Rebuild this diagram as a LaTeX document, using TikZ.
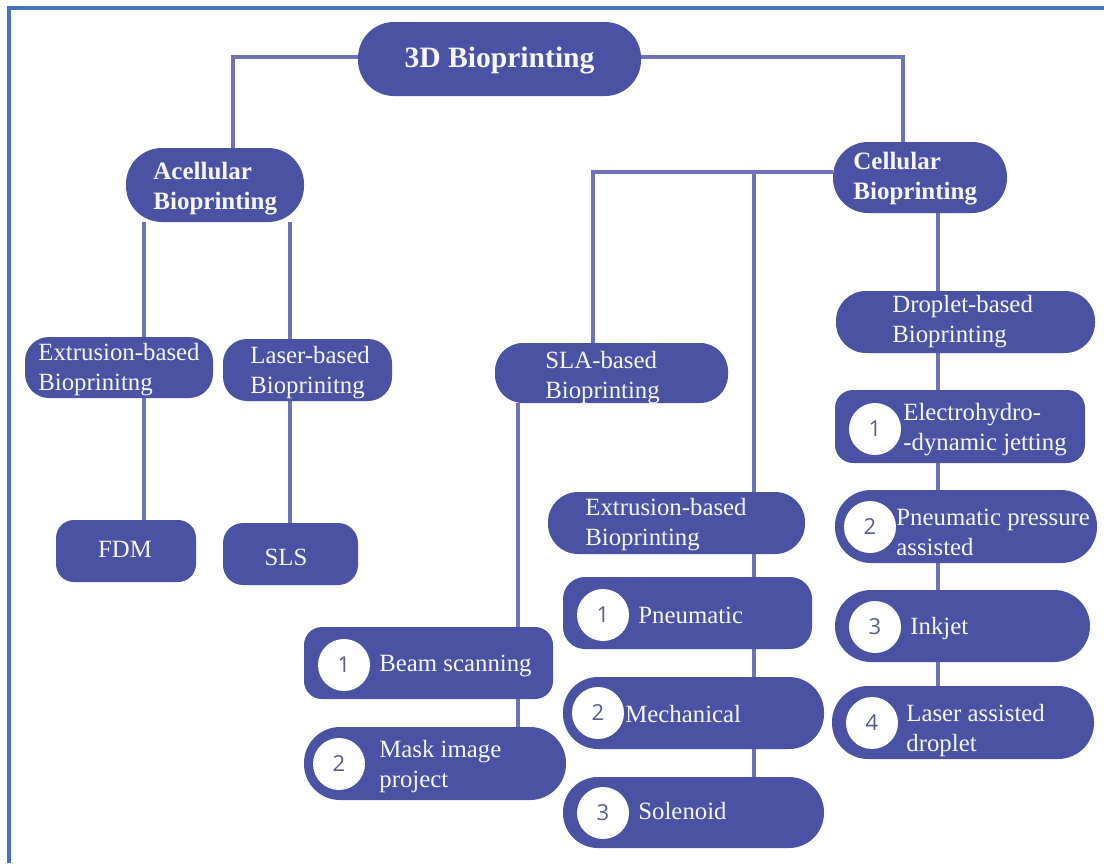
\documentclass[tikz,border=0pt]{standalone}
\usepackage{fontspec}
\setmainfont{Liberation Serif}
\newfontfamily\txtfont{Liberation Serif}
\newfontfamily\digitfont{Open Sans}
\usetikzlibrary{calc}
\definecolor{boxc}{RGB}{74,83,163}
\definecolor{connc}{RGB}{110,115,182}
\definecolor{bordc}{RGB}{68,114,196}
\definecolor{digc}{RGB}{90,94,140}
\definecolor{txtc}{RGB}{246,246,250}
\pgfdeclarelayer{bg}
\pgfsetlayers{bg,main}
\newcommand\mybox[6]{\node[box,rounded corners=#6pt,minimum width={(#4-#2)*0.5pt},minimum height={(#5-#3)*0.5pt}] (#1) at ({(#2+#4)/2},{(#3+#5)/2}) {};}
\begin{document}
\begin{tikzpicture}[x=0.5pt,y=-0.5pt,
  conn/.style={draw=connc,line width=2pt},
  box/.style={fill=boxc,inner sep=0pt,outer sep=0pt,draw=none},
  lbl/.style={text=txtc,inner sep=0pt,align=left,font=\txtfont\fontsize{12.4}{15}\selectfont},
  blbl/.style={text=txtc,inner sep=0pt,align=left,font=\txtfont\bfseries\fontsize{12.5}{15}\selectfont},
  num/.style={circle,fill=white,minimum size=26pt,inner sep=0pt,text=digc,font=\digitfont\fontsize{11}{13}\selectfont},
  border/.style={draw=bordc,line width=2pt}]
\useasboundingbox (0,0) rectangle (1104,863);
\draw[border] (9,863) -- (9,8) -- (1104,8);

% boxes
\mybox{top}{358}{22}{641}{96}{18}
\mybox{acell}{126}{148}{304}{222}{18}
\mybox{cell}{833}{142}{1007}{213}{17.5}
\mybox{ext1}{25}{337}{213}{398}{12}
\mybox{las1}{223}{339}{392}{401}{12}
\mybox{fdm}{56}{520}{196}{582}{9}
\mybox{sls}{223}{523}{358}{585}{10}
\mybox{sla}{495}{343}{728}{403}{14}
\mybox{ext2}{548}{492}{805}{554}{15}
\mybox{drop}{836}{291}{1095}{353}{15}
\mybox{beam}{304}{627}{553}{699}{9}
\mybox{mask}{304}{727}{566}{800}{18}
\mybox{pneu}{563}{577}{812}{649}{11}
\mybox{mech}{563}{677}{824}{749}{17.5}
\mybox{sol}{563}{777}{824}{848}{17.5}
\mybox{elec}{835}{390}{1085}{463}{9}
\mybox{pres}{835}{490}{1097}{563}{18}
\mybox{ink}{835}{590}{1090}{662}{18}
\mybox{las4}{832}{686}{1094}{759}{18}

% named x/y positions of the connector runs
\coordinate (xL) at (233,0);
\coordinate (xR) at (903,0);
\coordinate (xA) at (144,0);
\coordinate (xB) at (290,0);
\coordinate (xS) at (518,0);
\coordinate (xC) at (593,0);
\coordinate (xD) at (754,0);
\coordinate (xE) at (938,0);
\coordinate (hT) at (0,57);
\coordinate (hC) at (0,172);

\begin{pgfonlayer}{bg}
\draw[conn] (top.west |- hT) -| (acell.north -| xL);
\draw[conn] (top.east |- hT) -| (cell.north -| xR);
\draw[conn] (acell.south -| xA) -- (ext1.north -| xA);
\draw[conn] (acell.south -| xB) -- (las1.north -| xB);
\draw[conn] (ext1.south -| xA) -- (fdm.north -| xA);
\draw[conn] (las1.south -| xB) -- (sls.north -| xB);
\draw[conn] (cell.west |- hC) -| (sla.north -| xC);
\draw[conn] (hC -| xD) -- (sol.north -| xD);
\draw[conn] (sla.south -| xS) -- (mask.north -| xS);
\draw[conn] (cell.south -| xE) -- (las4.north -| xE);
\end{pgfonlayer}

% texts
\node[blbl,font=\txtfont\bfseries\fontsize{14.8}{17}\selectfont] (ttop) at ([yshift=-0.5pt]top.center) {3D Bioprinting};
\node[blbl,anchor=west] (tacell) at (153,189) {Acellular\\Bioprinting};
\node[blbl,anchor=west] (tcell) at (853,179) {Cellular\\Bioprinting};
\node[lbl,anchor=west] (text1) at (38,370) {Extrusion-based\\Bioprinitng};
\node[lbl,anchor=west] (tlas1) at (250,373) {Laser-based\\Bioprinitng};
\node[lbl] (tfdm) at (125,549) {FDM};
\node[lbl] (tsls) at (286,557) {SLS};
\node[lbl,anchor=west] (tsla) at (545,378) {SLA-based\\Bioprinting};
\node[lbl,anchor=west] (text2) at (585,525) {Extrusion-based\\Bioprinting};
\node[lbl,anchor=west] (tdrop) at (892,322) {Droplet-based\\Bioprinting};

\node[num] (n1e) at (875,429) {1};
\node[lbl,anchor=west] (telec) at (903,430) {Electrohydro-\\-dynamic jetting};
\node[num] (n2p) at (870,527) {2};
\node[lbl,anchor=west] (tpres) at (896,532) {Pneumatic pressure\\assisted};
\node[num] (n3i) at (875,627) {3};
\node[lbl,anchor=west] (tink) at (910,629) {Inkjet};
\node[num] (n4l) at (872,723) {4};
\node[lbl,anchor=west] (tlas4) at (906,731) {Laser assisted\\droplet};

\node[num] (n1b) at (344,665) {1};
\node[lbl,anchor=west] (tbeam) at (379,666) {Beam scanning};
\node[num] (n2m) at (339,764) {2};
\node[lbl,anchor=west] (tmask) at (379,767) {Mask image\\project};

\node[num] (n1p) at (603,615) {1};
\node[lbl,anchor=west] (tpneu) at (638,615) {Pneumatic};
\node[num] (n2c) at (598,713) {2};
\node[lbl,anchor=west] (tmech) at (625,714) {Mechanical};
\node[num] (n3s) at (603,813) {3};
\node[lbl,anchor=west] (tsol) at (638,811) {Solenoid};
\end{tikzpicture}
\end{document}
